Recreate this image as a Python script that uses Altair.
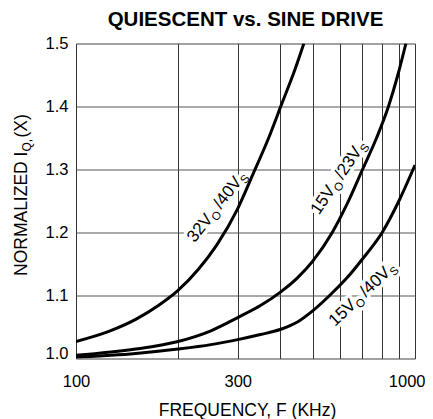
import altair as alt
import pandas as pd

# ---- data ----
freq_a = [100, 125, 150, 175, 200, 230, 260, 300, 333, 370, 405, 440, 470]
val_a = [1.027, 1.043, 1.062, 1.084, 1.108, 1.142, 1.18, 1.238, 1.293, 1.35, 1.405, 1.455, 1.5]

freq_b = [100, 150, 200, 250, 300, 350, 400, 450, 500, 570, 630, 700, 770, 835, 890, 940]
val_b = [1.005, 1.015, 1.027, 1.044, 1.065, 1.084, 1.105, 1.128, 1.155, 1.2, 1.245, 1.3, 1.35, 1.4, 1.45, 1.5]

freq_c = [100, 150, 200, 250, 300, 350, 400, 450, 500, 560, 630, 700, 800, 900, 1000]
val_c = [1.002, 1.008, 1.015, 1.022, 1.03, 1.038, 1.046, 1.058, 1.076, 1.1, 1.128, 1.158, 1.2, 1.252, 1.307]

series_names = ["32Vo/40Vs", "15Vo/23Vs", "15Vo/40Vs"]

label_main1 = ["32V", "15V", "15V"]
label_main2 = ["/40V", "/23V", "/40V"]
label_freq = [224, 521, 581]
label_val = [1.183, 1.227, 1.050]
label_angle = [308, 304, 316.5]

x_ticks = [100, 200, 300, 400, 500, 600, 700, 800, 900, 1000]
y_ticks = [1.0, 1.1, 1.2, 1.3, 1.4, 1.5]

FONT = "Liberation Sans"

rows = []
for name, fs, vs in zip(series_names, [freq_a, freq_b, freq_c], [val_a, val_b, val_c]):
    for f, v in zip(fs, vs):
        rows.append({"series": name, "f": f, "v": v})
curves_df = pd.DataFrame(rows)

labels_df = pd.DataFrame({
    "f": label_freq, "v": label_val, "ang": label_angle,
    "t1": label_main1, "t2": label_main2,
})

dummy = pd.DataFrame({"k": [0]})

x_scale = alt.Scale(type="log", domain=[100, 1000], nice=False)
y_scale = alt.Scale(domain=[1.0, 1.5], nice=False, zero=False)

x_axis = alt.Axis(
    values=x_ticks, format="d",
    labelExpr="(datum.value == 100 || datum.value == 300 || datum.value == 1000) ? datum.label : ''",
    labelOverlap=False, labelFlush=False, ticks=False, tickSize=0, domain=False,
    labelAlign={"condition": {"test": "datum.value >= 1000", "value": "right"}, "value": "center"},
    labelOffset={"condition": {"test": "datum.value >= 1000", "value": 10}, "value": 0},
    labelFont=FONT, labelFontSize=16.5, labelColor="black", labelPadding=15,
    grid=True, gridColor="#333", gridWidth=1, title=None,
)
y_axis = alt.Axis(
    values=y_ticks, format=".1f",
    labelBaseline={"condition": {"test": "datum.value <= 1.0", "value": "alphabetic"}, "value": "middle"},
    labelOverlap=False, labelFlush=False, ticks=False, tickSize=0, domain=False,
    labelFont=FONT, labelFontSize=16.5, labelColor="black", labelPadding=8,
    grid=True, gridColor="#555", gridWidth=1, title=None,
)

curves = alt.Chart(curves_df).mark_line(
    color="black", strokeWidth=3, interpolate="monotone", clip=True
).encode(
    x=alt.X("f:Q", scale=x_scale, axis=x_axis),
    y=alt.Y("v:Q", scale=y_scale, axis=y_axis),
    detail="series:N",
)

MAIN = 17
SUB = 11.5
pieces = [
    ("t1", 0, 0, MAIN),
    ("O", 30.5, 4, SUB),
    ("t2", 42.5, 0, MAIN),
    ("S", 77.5, 4, SUB),
]


def piece_layer(txt, dx, dy, size, halo):
    kw = dict(align="left", baseline="alphabetic", dx=dx, dy=dy, fontSize=size, font=FONT)
    if halo:
        kw.update(fill="white", stroke="white", strokeWidth=7, strokeJoin="round")
    else:
        kw.update(color="black")
    text_enc = alt.Text(f"{txt}:N") if txt in ("t1", "t2") else alt.value(txt)
    return alt.Chart(labels_df).mark_text(**kw).encode(
        x=alt.X("f:Q", scale=x_scale),
        y=alt.Y("v:Q", scale=y_scale),
        angle=alt.Angle("ang:Q", scale=None),
        text=text_enc,
    )


halos = [piece_layer(t, dx, dy, s, True) for (t, dx, dy, s) in pieces]
texts = [piece_layer(t, dx, dy, s, False) for (t, dx, dy, s) in pieces]

W, H = 339, 315

title = alt.Chart(dummy).mark_text(
    text="QUIESCENT vs. SINE DRIVE", font=FONT, fontSize=20.5, fontWeight="bold",
    align="center", baseline="alphabetic", color="black"
).encode(x=alt.value(W / 2), y=alt.value(-17.6))

x_title = alt.Chart(dummy).mark_text(
    text="FREQUENCY, F (KHz)", font=FONT, fontSize=17.5,
    align="center", baseline="alphabetic", color="black"
).encode(x=alt.value(W / 2 + 2), y=alt.value(372.5))

YT_X, YT_Y = -49.3, 232.5
y_title_parts = [
    ("NORMALIZED I", 0, 0, 17.5),
    ("Q,", 124.5, 4, 12),
    (" (X)", 138.5, 0, 17.5),
]
y_title = [
    alt.Chart(dummy).mark_text(
        text=t, font=FONT, fontSize=s, align="left", baseline="alphabetic",
        angle=270, dx=dx, dy=dy, color="black"
    ).encode(x=alt.value(YT_X), y=alt.value(YT_Y))
    for (t, dx, dy, s) in y_title_parts
]

chart = alt.layer(
    curves.mark_line(opacity=0),  # axes/grid carrier
    *halos, curves, *texts, title, x_title, *y_title
).properties(
    width=W, height=H,
    padding={"left": 68, "top": 35.5, "right": 10, "bottom": 60.5},
    autosize=alt.AutoSizeParams(type="none"),
).configure_view(
    stroke="black", strokeWidth=2.5
).configure(background="white")

chart.save("out.html", embed_options={"renderer": "svg", "actions": False})
